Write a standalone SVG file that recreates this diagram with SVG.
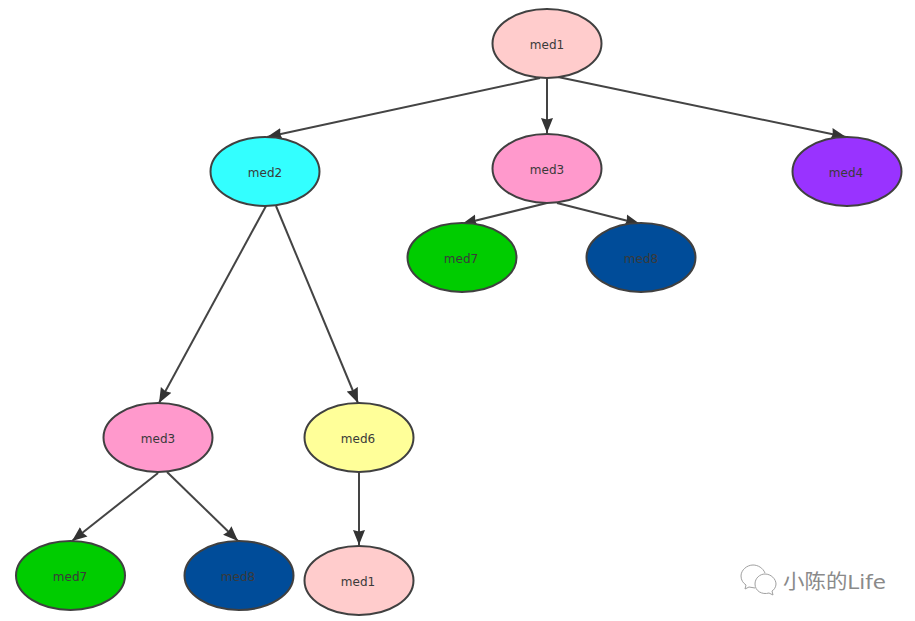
<svg xmlns="http://www.w3.org/2000/svg" width="915" height="621" viewBox="0 0 915 621">
<style>
.n{stroke:#404040;stroke-width:2}
.t{font-family:"DejaVu Sans",sans-serif;font-size:12px;fill:#3a3a3a;text-anchor:middle}
.c{stroke:#444;stroke-width:2;fill:none;marker-end:url(#a)}
.w{fill:none;stroke:#a0a0a0;stroke-width:1}
</style>
<defs><marker id="a" markerUnits="userSpaceOnUse" markerWidth="16" markerHeight="14" refX="15" refY="7" orient="auto"><path d="M0 1L15 7L0 13L1.500 7Z" fill="#333"/></marker></defs>
<rect width="915" height="621" fill="#fff"/>
<g id="connectors">
<path class="c" d="M540 78L267 137"/>
<path class="c" d="M547 78L547 133"/>
<path class="c" d="M558 77L846 137"/>
<path class="c" d="M266 206L159 403"/>
<path class="c" d="M276 206L358 403"/>
<path class="c" d="M359 473L359 545"/>
<path class="c" d="M158 473L72 541"/>
<path class="c" d="M167 472L238 541"/>
<path class="c" d="M547 203L462 224"/>
<path class="c" d="M557 203L640 224"/>
</g>
<g id="n1"><ellipse class="n" cx="547" cy="43.500" rx="54.500" ry="34.500" fill="#ffcccc"/><text class="t" x="547" y="48.500">med1</text></g>
<g id="n2"><ellipse class="n" cx="265" cy="171.500" rx="54.500" ry="34.500" fill="#33ffff"/><text class="t" x="265" y="176.500">med2</text></g>
<g id="n3"><ellipse class="n" cx="547" cy="168.500" rx="54.500" ry="34.500" fill="#ff99cc"/><text class="t" x="547" y="173.500">med3</text></g>
<g id="n4"><ellipse class="n" cx="847" cy="171.500" rx="54.500" ry="34.500" fill="#9933ff"/><text class="t" x="846" y="176.500">med4</text></g>
<g id="n5"><ellipse class="n" cx="462" cy="257.500" rx="54.500" ry="34.500" fill="#00cc00"/><text class="t" x="461" y="262.500">med7</text></g>
<g id="n6"><ellipse class="n" cx="641" cy="257.500" rx="54.500" ry="34.500" fill="#004c99"/><text class="t" x="641" y="262.500">med8</text></g>
<g id="n7"><ellipse class="n" cx="158" cy="437.500" rx="54.500" ry="34.500" fill="#ff99cc"/><text class="t" x="158" y="442.500">med3</text></g>
<g id="n8"><ellipse class="n" cx="359" cy="437.500" rx="54.500" ry="34.500" fill="#ffff99"/><text class="t" x="358" y="442.500">med6</text></g>
<g id="n9"><ellipse class="n" cx="70.500" cy="575.500" rx="54.500" ry="34.500" fill="#00cc00"/><text class="t" x="70" y="580.500">med7</text></g>
<g id="n10"><ellipse class="n" cx="239" cy="575.500" rx="54.500" ry="34.500" fill="#004c99"/><text class="t" x="238" y="580.500">med8</text></g>
<g id="n11"><ellipse class="n" cx="359" cy="580.500" rx="54.500" ry="34.500" fill="#ffcccc"/><text class="t" x="358" y="585.500">med1</text></g>
<g id="watermark">
<path class="w" d="M765 573C763 568 758 565 753 565C747 565 741 570 741 576C741 580 743 583 746 585L745 589L749 587L755 588"/>
<path class="w" d="M765 574C771 574 776 579 776 584C776 587 774 590 772 591L773 595L769 593C762 595 755 591 755 584C755 578 760 574 765 574Z"/>
<text x="783" y="589" font-family="'DejaVu Sans','Noto Sans CJK SC',sans-serif" font-size="20" fill="#8a8a8a" textLength="103" lengthAdjust="spacingAndGlyphs">小陈的Life</text>
</g>
</svg>
